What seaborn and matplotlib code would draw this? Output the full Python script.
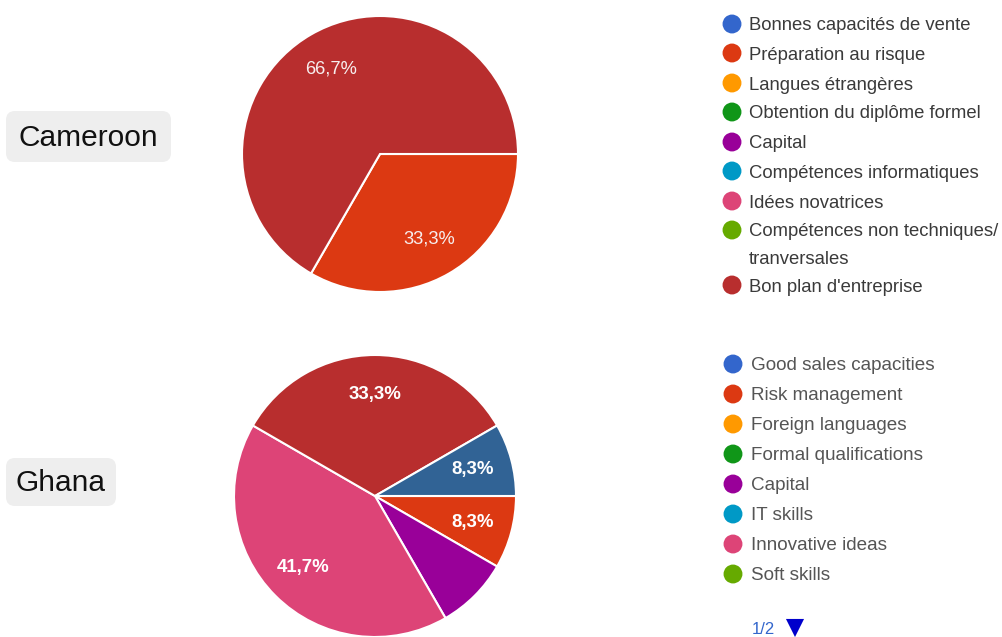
import matplotlib
matplotlib.use("Agg")
import matplotlib.pyplot as plt
from matplotlib.patches import FancyBboxPatch
import seaborn as sns

# ---- data -------------------------------------------------------------
legend_fr = ["Bonnes capacités de vente", "Préparation au risque", "Langues étrangères",
             "Obtention du diplôme formel", "Capital", "Compétences informatiques",
             "Idées novatrices", "Compétences non techniques/\ntranversales",
             "Bon plan d'entreprise"]
legend_en = ["Good sales capacities", "Risk management", "Foreign languages",
             "Formal qualifications", "Capital", "IT skills", "Innovative ideas",
             "Soft skills"]

cameroon_slices = ["Préparation au risque", "Bon plan d'entreprise"]
cameroon_counts = [1, 2]

ghana_slices = ["Risk management", "Capital", "Innovative ideas",
                "Good business plan", "Other"]
ghana_counts = [1, 1, 5, 4, 1]

palette = ["#3366CC", "#DC3912", "#FF9900", "#109618", "#990099", "#0099C6",
           "#DD4477", "#66AA00", "#B82E2E", "#316395"]
cameroon_colors = [palette[1], palette[8]]
ghana_colors = [palette[1], palette[4], palette[6], palette[8], palette[9]]
ghana_pct_visible = [True, False, True, True, True]

# ---- figure -----------------------------------------------------------
sns.set_theme(style="white")
plt.rcParams["font.family"] = ["Liberation Sans", "DejaVu Sans"]

W, H = 1002, 637
fig = plt.figure(figsize=(W / 100, H / 100), dpi=100)
fig.patch.set_facecolor("white")

overlay = fig.add_axes([0, 0, 1, 1])
overlay.set_xlim(0, W)
overlay.set_ylim(H, 0)
overlay.axis("off")


def pct_fmt(p):
    return f"{p:.1f}%".replace(".", ",")


def pie_axes(cx, cy, r):
    ax = fig.add_axes([(cx - r) / W, 1 - (cy + r) / H, 2 * r / W, 2 * r / H])
    ax.axis("off")
    return ax


def fit(ax):
    ax.set_xlim(-1, 1)
    ax.set_ylim(-1, 1)
    ax.set_aspect("auto")


# Cameroon pie
ax_c = pie_axes(380, 154, 138)
_, _, txt_c = ax_c.pie(cameroon_counts, colors=cameroon_colors, startangle=0,
                       counterclock=False, radius=1, autopct=pct_fmt,
                       pctdistance=0.71,
                       wedgeprops=dict(edgecolor="white", linewidth=1.5),
                       textprops=dict(color="#f7eeee", fontsize=13.2))
fit(ax_c)

# Ghana pie
ax_g = pie_axes(375, 496, 141)
_, _, txt_g = ax_g.pie(ghana_counts, colors=ghana_colors, startangle=0,
                       counterclock=False, radius=1, autopct=pct_fmt,
                       pctdistance=0.72,
                       wedgeprops=dict(edgecolor="white", linewidth=1.5),
                       textprops=dict(color="white", fontsize=13.4,
                                      fontweight="bold"))
for t, show in zip(txt_g, ghana_pct_visible):
    if not show:
        t.set_text("")
fit(ax_g)

# Country tags
for name, (x0, y0, x1, y1) in [("Cameroon", (6, 111, 171, 162)),
                               ("Ghana", (6, 458, 116, 506))]:
    overlay.add_patch(FancyBboxPatch((x0, y0), x1 - x0, y1 - y0,
                                     boxstyle="round,pad=0,rounding_size=9",
                                     facecolor="#eeeeee", edgecolor="none"))
    overlay.text((x0 + x1) / 2, (y0 + y1) / 2 + 1, name, fontsize=21.5,
                 color="#111111", ha="center", va="center")

# French legend
fr_rows = [24, 53, 83, 112, 142, 171, 201, 230, 285]
overlay.scatter([732] * len(fr_rows), fr_rows, s=185, c=palette[:9],
                edgecolors="none")
for y, lab in zip(fr_rows, legend_fr):
    for k, line in enumerate(lab.split("\n")):
        overlay.text(749, y + 2 + 27 * k, line, fontsize=13.3, color="#3a3a3a",
                     ha="left", va="center")

# English legend
en_rows = [364, 394, 424, 454, 484, 514, 544, 574]
overlay.scatter([733] * len(en_rows), en_rows, s=185, c=palette[:8],
                edgecolors="none")
for y, lab in zip(en_rows, legend_en):
    overlay.text(751, y + 2, lab, fontsize=13.6, color="#555555", ha="left",
                 va="center")

# pager
overlay.text(752, 630, "1/2", fontsize=12, color="#3366cc", ha="left", va="center")
overlay.scatter([795], [628], marker="v", s=170, c="#0000cc", edgecolors="none")

fig.savefig("out.png", dpi=100, facecolor="white")
